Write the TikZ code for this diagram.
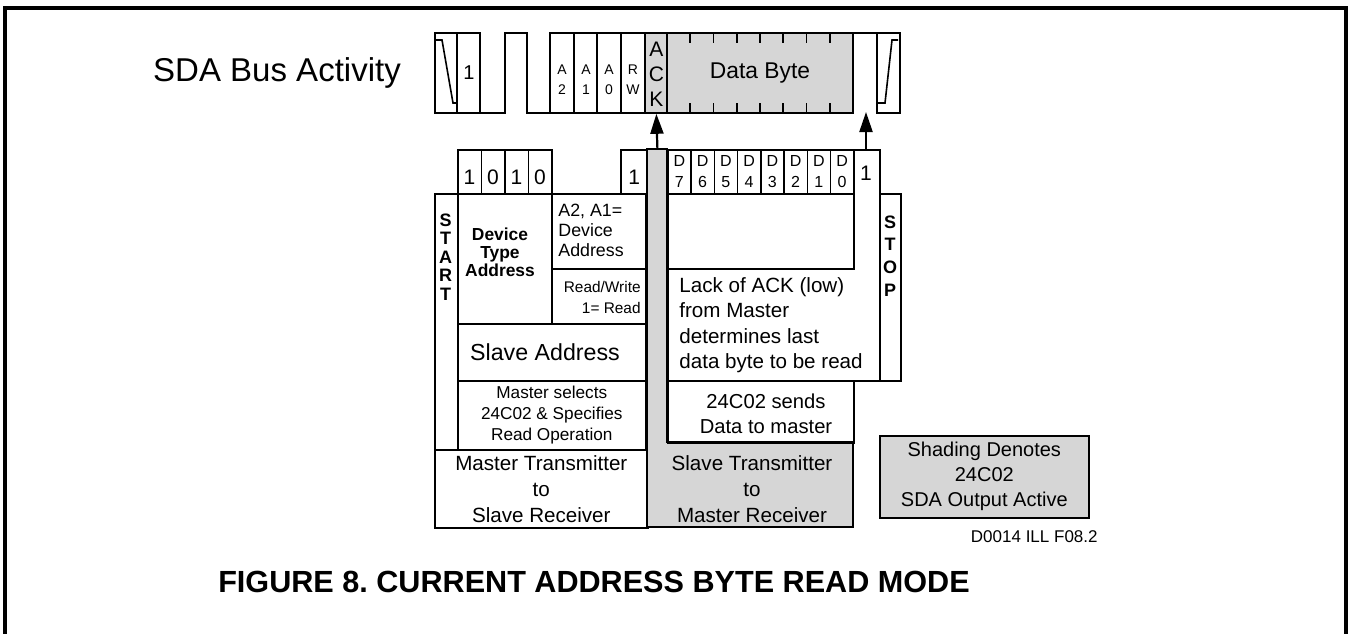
\documentclass[tikz,border=0pt]{standalone}
\usepackage{fontspec}
\setmainfont{Liberation Sans}
\usetikzlibrary{arrows.meta,calc,positioning}
\definecolor{shadegray}{HTML}{D6D6D6}
\frenchspacing

\begin{document}
\begin{tikzpicture}[
  x=0.5pt,y=-0.5pt,
  wave/.style={line width=1.1pt},
  grid/.style={line width=0.8pt},
  cell/.style={draw,grid,inner sep=0pt,anchor=north west,align=center},
  bitbox/.style={cell,minimum width=11.75pt,minimum height=22pt,
                 font=\fontsize{10.5}{12}\selectfont,text height=12.5pt},
  dbox/.style={cell,minimum width=11.625pt,minimum height=22pt,
               font=\fontsize{8}{10.5}\selectfont},
  txt/.style={inner sep=0pt,align=center,font=\fontsize{10.3}{12.7}\selectfont},
  small/.style={inner sep=0pt,align=center,font=\fontsize{7}{10}\selectfont},
  vert/.style={inner sep=0pt,align=center,font=\bfseries\fontsize{9}{#1}\selectfont},
  sig/.style={line width=1.1pt,-{Triangle[length=10pt,width=6.5pt]},shorten >=-0.5pt}
]
  \useasboundingbox (0,0) rectangle (1349,633);
  \draw[line width=1.6pt] (5,650) -- (5,8) -- (1346,8) -- (1346,650);

  % bus waveform
  \fill[shadegray] (645,33) rectangle (853,113);
  \draw[wave] (480,113) -- (480,33) -- (435,33) -- (435,113) -- (505,113) -- (505,33)
    -- (527,33) -- (527,113) -- (853,113) -- (853,33) -- (550,33) -- (550,113);
  \draw[wave] (853,33) -- (900,33) -- (900,113) -- (877,113) -- (877,33);
  \foreach \x in {457,574,597,621,645,667}
    \draw[wave] (\x,33) -- (\x,113);
  \foreach \k in {1,...,7}
    \draw[grid] ({667+23.25*\k},33) -- ++(0,10) ({667+23.25*\k},113) -- ++(0,-10);
  \draw[grid] (436,40) -- (442,40) -- (453,103) -- (457,103);
  \draw[grid] (878,103) -- (885,103) -- (892,40) -- (898,40);

  \node[font=\fontsize{16.5}{20}\selectfont] (sda) at (277,73) {SDA Bus Activity};
  \node[txt,font=\fontsize{10}{12}\selectfont] (firstbit) at (469,73) {1};
  \node[small] (a2) at (562,80) {A\\2};
  \node[small] (a1) at (586,80) {A\\1};
  \node[small] (a0) at (609,80) {A\\0};
  \node[small] (rwsym) at (633,80) {R\\W};
  \node[inner sep=0pt,minimum width=11pt,minimum height=40pt,anchor=north west,align=center,
        font=\fontsize{10.5}{12.5}\selectfont] (ackslot) at (645,34) {A\\C\\K};
  \node[font=\fontsize{11.4}{13}\selectfont] (databyte) at (760,73) {Data Byte};
  \coordinate (idle) at (866,113);

  % master part
  \foreach \x/\b [count=\i] in {457/1,480.5/0,504/1,527.5/0}
    \node[bitbox] (dev\i) at (\x,149) {\b};
  \node[bitbox,minimum width=13.5pt] (rwbit) at (620,149) {1};
  \node[cell,minimum width=11.5pt,minimum height=128pt] (start) at (434,193) {};
  \node[cell,minimum width=47pt,minimum height=65pt] (devtype) at (457,193) {};
  \node[cell,minimum width=47pt,minimum height=37.5pt] (devaddr) at (551,193) {};
  \node[cell,minimum width=47pt,minimum height=27.5pt] (rw) at (551,268) {};
  \node[cell,minimum width=94pt,minimum height=28.5pt] (slaveaddr) at (457,323) {};
  \node[cell,minimum width=94pt,minimum height=34.5pt,font=\fontsize{8.6}{10.5}\selectfont]
    (selects) at (457,380) {Master selects\\24C02 \& Specifies\\Read Operation};
  \node[cell,minimum width=106.5pt,minimum height=39pt,font=\fontsize{10.3}{13}\selectfont]
    (mtx) at (434,449) {Master Transmitter\\to\\Slave Receiver};

  \node[vert=9.2pt] (starttxt) at (445.5,257) {S\\T\\A\\R\\T};
  \node[inner sep=0pt,align=center,font=\bfseries\fontsize{8.7}{9}\selectfont] (devtypetxt)
    at (500,252) {Device\\Type\\Address};
  \node[inner sep=0pt,anchor=west,align=left,font=\fontsize{8.9}{10}\selectfont] (devaddrtxt)
    at (558,230) {A2, A1=\\Device\\Address};
  \node[inner sep=0pt,anchor=east,align=right,font=\fontsize{7.7}{10.5}\selectfont] (rwtxt)
    at (641,297.5) {Read/Write\\1= Read};
  \node[font=\fontsize{11.6}{13}\selectfont] (slaveaddrtxt) at (545,352) {Slave Address};

  % slave part
  \node[inner sep=0pt,minimum width=10pt,minimum height=150pt,anchor=north west,fill=shadegray]
    (ackbar) at (647,149) {};
  \node[inner sep=0pt,minimum width=103pt,minimum height=42.5pt,anchor=north west,fill=shadegray]
    (stx) at (647,442) {};
  \draw[grid] (647,149) -- (667,149) -- (667,442) -- (853,442) -- (853,527) -- (647,527) -- cycle;
  \node[txt,font=\fontsize{10.3}{13}\selectfont] (stxtxt) at (752,489)
    {Slave Transmitter\\to\\Master Receiver};

  \node[cell,minimum width=106pt,minimum height=115.5pt] (dframe) at (667,149) {};
  \foreach \d [count=\i from 0] in {7,...,0}
    \node[dbox] (d\d) at ({667+23.25*\i},149) {D\\\d};
  \node[cell,minimum width=93pt,minimum height=37.5pt] (dempty) at (667,193) {};
  \node[txt,font=\fontsize{10.5}{12}\selectfont] (nackbit) at (866,173) {1};
  \node[txt,anchor=west,align=left] (lacktxt) at (679,325)
    {Lack of ACK (low)\\from Master\\determines last\\data byte to be read};
  \node[cell,minimum width=10.5pt,minimum height=93.5pt] (stop) at (879,193) {};
  \node[vert=11.3pt] (stoptxt) at (890,256) {S\\T\\O\\P};
  \node[cell,minimum width=93pt,minimum height=31pt] (sends) at (667,380) {};
  \node[txt,font=\fontsize{10.1}{12.5}\selectfont] (sendstxt) at (766,414)
    {24C02 sends\\Data to master};

  \draw[sig] (ackbar.north) -- (ackslot.south);
  \draw[sig] (nackbit.north |- dframe.north) -- (idle);

  \node[cell,fill=shadegray,minimum width=104.5pt,minimum height=41pt,
        font=\fontsize{10}{12.5}\selectfont] (legend) at (879,435)
    {Shading Denotes\\24C02\\SDA Output Active};
  \node[inner sep=0pt,anchor=east,font=\fontsize{8.5}{10}\selectfont] (drawno) at (1098,537)
    {D0014 ILL F08.2};
  \node[font=\bfseries\fontsize{15.3}{18}\selectfont] (title) at (594,582)
    {FIGURE 8. CURRENT ADDRESS BYTE READ MODE};
\end{tikzpicture}
\end{document}
